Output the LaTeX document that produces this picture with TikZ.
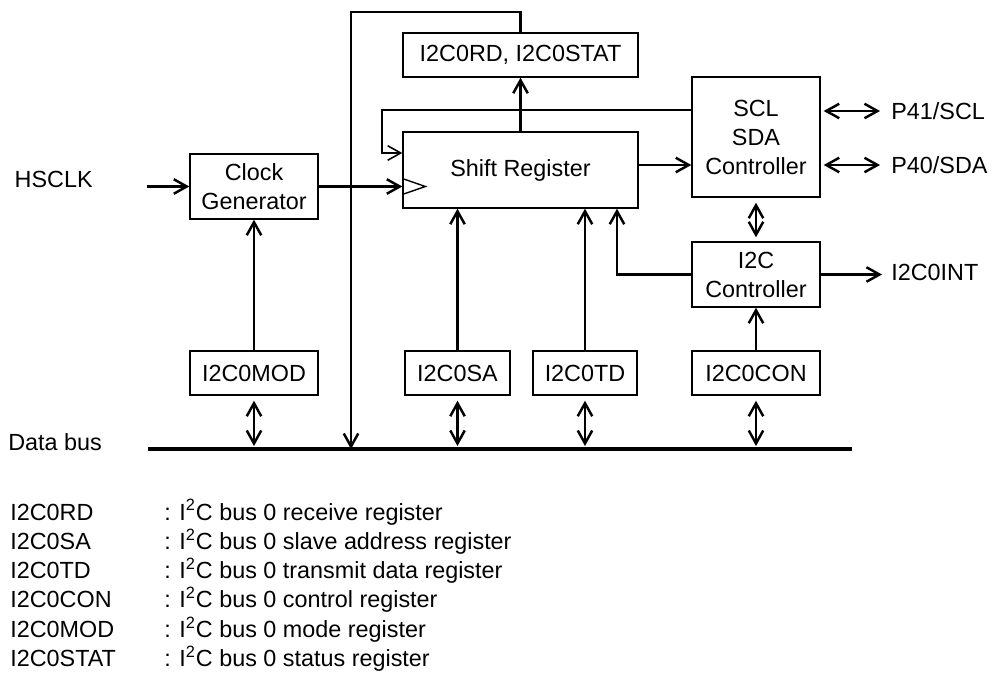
\documentclass[tikz,border=0pt]{standalone}
\usepackage{fontspec}
\setmainfont{Liberation Sans}
\usetikzlibrary{arrows.meta}
\tikzset{
  flow arrow/.style={-{Straight Barb[length=2.6mm,width=2.9mm]},line width=1.4pt},
  both arrow/.style={{Straight Barb[length=2.6mm,width=2.9mm]}-{Straight Barb[length=2.6mm,width=2.9mm]},line width=1.4pt},
  thin line/.style={line width=0.8pt},
  reg node/.style={draw,line width=0.8pt,inner sep=0pt,align=center,
    minimum width=2.56cm,minimum height=0.88cm},
  plain text/.style={inner sep=0pt,anchor=base west}
}

\begin{document}
\begin{tikzpicture}[x=0.02cm,y=-0.02cm,font=\fontsize{13.3}{16.5}\selectfont]
    \useasboundingbox (0,0) rectangle (994,673);
    % blocks
    \node[reg node,minimum width=4.7cm] (rdstat) at (520.5,55) {I2C0RD, I2C0STAT};
    \node[reg node,minimum width=4.7cm,minimum height=1.52cm] (shreg) at (520.5,170) {Shift Register};
    \node[reg node,minimum height=1.3cm] (clkgen) at (254,186.5) {Clock\\Generator};
    \node[reg node,minimum height=2.4cm] (sclsda) at (756,137) {SCL\\SDA\\Controller};
    \node[reg node,minimum height=1.3cm] (i2cctl) at (756,274.5) {I2C\\Controller};
    \node[reg node] (mod) at (254,373) {I2C0MOD};
    \node[reg node,minimum width=2.1cm] (sa) at (457.5,373) {I2C0SA};
    \node[reg node,minimum width=2.08cm] (td) at (585,373) {I2C0TD};
    \node[reg node] (con) at (756,373) {I2C0CON};
    % outside signals
    \node[plain text,anchor=base east] (hsclk) at (93,187) {HSCLK};
    \node[plain text] (p41) at (891,119) {P41/SCL};
    \node[plain text] (p40) at (891,173) {P40/SDA};
    \node[plain text] (intr) at (891,280) {I2C0INT};
    \node[plain text] (dbus) at (8,450) {Data bus};
    \coordinate (hsin) at (147,186.5);
    \coordinate (busL) at (148,449);
    \coordinate (busR) at (852,449);
    \coordinate (loopL) at (351,12);
    \coordinate (fbtop) at (382,110);
    \coordinate (fbin) at (382,153);
    \coordinate (sdaline) at (0,165);
    \coordinate (ctlturn) at (617,0);
    % data bus
    \draw[line width=2.6pt] (busL) -- (busR);
    % connections
    \draw[flow arrow] (hsin) -- (clkgen);
    \draw[flow arrow] (clkgen.east) -- (clkgen.east -| shreg.west);
    \draw[thin line] (shreg.west |- clkgen.east) ++(0,-8) -- ++(23,8) -- ++(-23,8);
    \draw[flow arrow] (rdstat.north) -- (rdstat.north |- loopL) -- (loopL) -- (loopL |- busL);
    \draw[flow arrow] (shreg) -- (rdstat);
    \draw[flow arrow,line width=0.9pt] (fbtop -| sclsda.west) -- (fbtop) -- (fbin) -- (fbin -| shreg.west);
    \draw[flow arrow] (shreg.east |- sdaline) -- (sclsda.west |- sdaline);
    \draw[both arrow] ([xshift=0.06cm]sclsda.east |- 0,111) -- ([xshift=-0.22cm]p41.west |- 0,111);
    \draw[both arrow] ([xshift=0.06cm]sclsda.east |- sdaline) -- ([xshift=-0.22cm]p40.west |- sdaline);
    \draw[both arrow] ([yshift=-0.1cm]sclsda.south) -- ([yshift=0.08cm]i2cctl.north);
    \draw[flow arrow] (i2cctl.east) -- ([xshift=-0.18cm]intr.west |- i2cctl.east);
    \draw[flow arrow] (i2cctl.west) -| (ctlturn |- shreg.south);
    \draw[flow arrow] (mod) -- (clkgen);
    \draw[flow arrow] (sa.north) -- (sa.north |- shreg.south);
    \draw[flow arrow] (td.north) -- (td.north |- shreg.south);
    \draw[flow arrow] (con) -- (i2cctl);
    \foreach \r in {mod,sa,td,con}
      \draw[both arrow] ([yshift=-0.1cm]\r.south) -- ([yshift=0.06cm]\r.south |- busL);
    % legend
    \foreach \reg/\desc [count=\i] in {I2C0RD/receive register,I2C0SA/slave address register,
        I2C0TD/transmit data register,I2C0CON/control register,
        I2C0MOD/mode register,I2C0STAT/status register}{
      \node[plain text] (name\i) at (10,{490.7+29.3*\i}) {\reg};
      \node[plain text] (desc\i) at (164,{490.7+29.3*\i}) {: I\textsuperscript{2}C bus 0 \desc};
    }
  \end{tikzpicture}
\end{document}
